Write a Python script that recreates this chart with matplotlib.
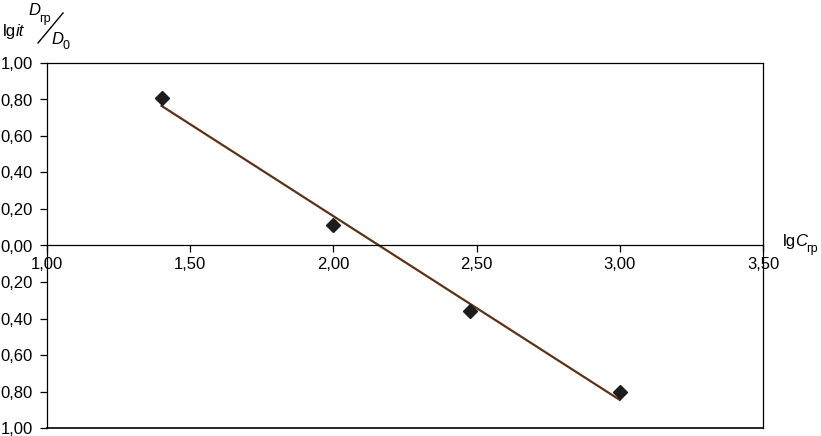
import numpy as np
import matplotlib
matplotlib.use("Agg")
import matplotlib.pyplot as plt

plt.rcParams["font.family"] = ["Liberation Sans", "DejaVu Sans"]

# data
lg_c = [1.40, 2.00, 2.477, 3.00]
lg_ratio = [0.81, 0.11, -0.36, -0.80]

x_ticks = [1.0, 1.5, 2.0, 2.5, 3.0, 3.5]
x_labels = ["1,00", "1,50", "2,00", "2,50", "3,00", "3,50"]
y_ticks = [1.0, 0.8, 0.6, 0.4, 0.2, 0.0, -0.2, -0.4, -0.6, -0.8, -1.0]
# minus signs are cut off in the source image
y_labels = ["1,00", "0,80", "0,60", "0,40", "0,20", "0,00",
            "0,20", "0,40", "0,60", "0,80", "1,00"]

fig = plt.figure(figsize=(8.21, 4.36), dpi=100)
ax = fig.add_axes([47 / 821, 1 - 428 / 436, (763 - 47) / 821, (428 - 63) / 436])

ax.set_xlim(1.0, 3.5)
ax.set_ylim(-1.0, 1.0)

# linear trend through the points
k, b = np.polyfit(lg_c, lg_ratio, 1)
xs = np.array([min(lg_c), max(lg_c)])
ax.plot(xs, k * xs + b, color="#5e3216", lw=1.6, zorder=2)
ax.plot(lg_c, lg_ratio, ls="none", marker="D", ms=6.8, color="#1c1c1c", zorder=3)

for s in ["left", "right", "top", "bottom"]:
    ax.spines[s].set_linewidth(0.9)
    ax.spines[s].set_color("black")
ax.spines["bottom"].set_position(("data", 0))
ax.axhline(-1.0, color="black", lw=1.2, clip_on=False, zorder=1)

ax.set_xticks(x_ticks)
ax.set_xticklabels(x_labels)
ax.set_yticks(y_ticks)
ax.set_yticklabels(y_labels)
ax.tick_params(axis="both", direction="out", length=5, width=0.9, labelsize=12,
               colors="black")
ax.tick_params(axis="x", pad=3)
ax.tick_params(axis="y", pad=5)
for t, v in zip(ax.yaxis.get_major_ticks(), y_ticks):
    if -1 < v < 0:
        t.tick1line.set_color("#808080")

# axis titles
fig.text(783 / 821, 1 - 246 / 436, "lg", fontsize=12, ha="left", va="baseline")
fig.text(795 / 821, 1 - 246 / 436, "C", fontsize=12, style="italic", ha="left", va="baseline")
fig.text(806 / 821, 1 - 252 / 436, "гр", fontsize=9, ha="left", va="baseline")

fig.text(3 / 821, 1 - 36 / 436, "lg", fontsize=12, ha="left", va="baseline")
fig.text(16 / 821, 1 - 36 / 436, "it", fontsize=12, style="italic", ha="left", va="baseline")
fig.text(28 / 821, 1 - 15 / 436, "D", fontsize=12, style="italic", ha="left", va="baseline")
fig.text(39 / 821, 1 - 22 / 436, "гр", fontsize=9, ha="left", va="baseline")
fig.add_artist(plt.Line2D([38 / 821, 63 / 821], [1 - 43 / 436, 1 - 13 / 436],
                          color="black", lw=1.0, transform=fig.transFigure))
fig.text(51 / 821, 1 - 44 / 436, "D", fontsize=12, style="italic", ha="left", va="baseline")
fig.text(62 / 821, 1 - 49 / 436, "0", fontsize=9, ha="left", va="baseline")

fig.savefig("out.png", dpi=100)
